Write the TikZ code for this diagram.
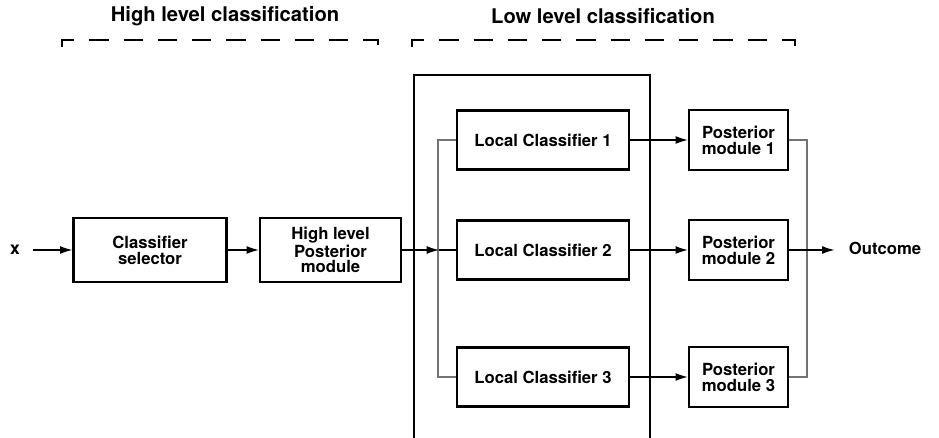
\documentclass[tikz,border=0pt]{standalone}
\usepackage{fontspec}
\setmainfont{TeX Gyre Heros}
\usetikzlibrary{arrows.meta}

\tikzset{
  block/.style={draw, line width=1.3pt, align=center, inner sep=2pt,
    font=\bfseries\fontsize{9.5}{9}\selectfont},
  flow/.style={-{Latex[length=7pt,width=4.5pt]}, line width=0.7pt},
  bus/.style={draw=black!55, line width=1.5pt},
  group/.style={dash pattern=on 11pt off 8.5pt, line width=1pt},
  heading/.style={font=\bfseries\fontsize{11.5}{13}\selectfont},
}

\begin{document}
\begin{tikzpicture}[x=0.02cm, y=-0.02cm]
    \useasboundingbox (0,0) rectangle (939,438);
    % headings and brackets
    \node[heading] (hightitle) at (225,16) {High level classification};
    \node[heading] (lowtitle) at (603,16) {Low level classification};
    \draw[group] (62,47) -- (62,40) -- (378,40) -- (378,47);
    \draw[group] (412,47) -- (412,40) -- (795,40) -- (795,47);
    % low level frame, open at the bottom
    \draw[line width=1.3pt] (414,438) |- (650,75) -- (650,438);
    % high level part
    \node (x) at (15,250) {\bfseries x};
    \node[block, minimum width=3.06cm, minimum height=1.28cm] (sel) at (150,250) {Classifier\\selector};
    \node[block, minimum width=2.82cm, minimum height=1.28cm] (hlp) at (330.5,250) {High level\\Posterior\\module};
    \draw[flow, shorten <=4pt] (x) -- (sel);
    \draw[flow] (sel) -- (hlp);
    % local classifiers
    \node[block, minimum width=3.44cm, minimum height=1.18cm] (lc1) at (543,140) {Local Classifier 1};
    \node[block, minimum width=3.44cm, minimum height=1.18cm] (lc2) at (543,250) {Local Classifier 2};
    \node[block, minimum width=3.44cm, minimum height=1.18cm] (lc3) at (543,377) {Local Classifier 3};
    \coordinate (busL) at (439,250);
    \draw[bus] (lc1.west) -- ++(-18,0) |- (lc3.west);
    \draw[line width=0.7pt] (busL) -- (lc2.west);
    \draw[flow] (hlp) -- (busL);
    % posterior modules
    \node[block, minimum width=1.98cm, minimum height=1.2cm] (pm1) at (738.5,140) {Posterior\\module 1};
    \node[block, minimum width=1.98cm, minimum height=1.2cm] (pm2) at (738.5,250) {Posterior\\module 2};
    \node[block, minimum width=1.98cm, minimum height=1.2cm] (pm3) at (738.5,377) {Posterior\\module 3};
    \draw[flow] (lc1) -- (pm1);
    \draw[flow] (lc2) -- (pm2);
    \draw[flow] (lc3) -- (pm3);
    \draw[bus] (pm1.east) -- ++(18,0) |- (pm3.east);
    \node[anchor=west, inner sep=2pt, font=\bfseries\fontsize{9.5}{9}\selectfont] (outcome) at (845,248) {Outcome};
    \draw[flow, shorten >=6pt] (pm2.east) -- (outcome.west |- pm2.east);
\end{tikzpicture}
\end{document}
